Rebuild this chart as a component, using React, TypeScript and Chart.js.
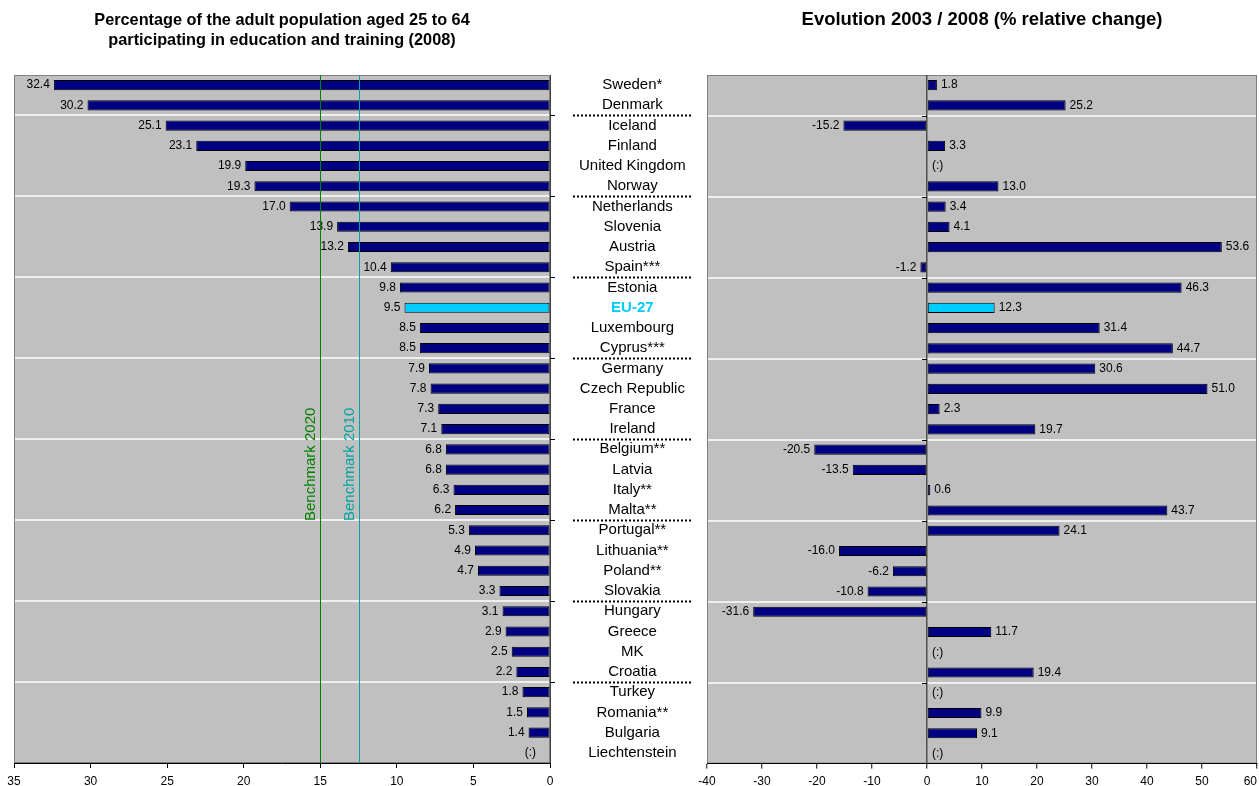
import React, { useEffect, useRef } from 'react';
import { Chart, registerables } from 'chart.js';
Chart.register(...registerables);

const countries = [
  'Sweden*', 'Denmark', 'Iceland', 'Finland', 'United Kingdom', 'Norway',
  'Netherlands', 'Slovenia', 'Austria', 'Spain***', 'Estonia', 'EU-27',
  'Luxembourg', 'Cyprus***', 'Germany', 'Czech Republic', 'France', 'Ireland',
  'Belgium**', 'Latvia', 'Italy**', 'Malta**', 'Portugal**', 'Lithuania**',
  'Poland**', 'Slovakia', 'Hungary', 'Greece', 'MK', 'Croatia', 'Turkey',
  'Romania**', 'Bulgaria', 'Liechtenstein',
];

const participation2008: (number | null)[] = [
  32.4, 30.2, 25.1, 23.1, 19.9, 19.3, 17.0, 13.9, 13.2, 10.4, 9.8, 9.5,
  8.5, 8.5, 7.9, 7.8, 7.3, 7.1, 6.8, 6.8, 6.3, 6.2, 5.3, 4.9,
  4.7, 3.3, 3.1, 2.9, 2.5, 2.2, 1.8, 1.5, 1.4, null,
];

const change2003to2008: (number | null)[] = [
  1.8, 25.2, -15.2, 3.3, null, 13.0, 3.4, 4.1, 53.6, -1.2, 46.3, 12.3,
  31.4, 44.7, 30.6, 51.0, 2.3, 19.7, -20.5, -13.5, 0.6, 43.7, 24.1, -16.0,
  -6.2, -10.8, -31.6, 11.7, null, 19.4, null, 9.9, 9.1, null,
];

const benchmarkNames = ['Benchmark 2020', 'Benchmark 2010'];
const benchmarkValues = [15, 12.5];

const groupBreaks = [2, 6, 10, 14, 18, 22, 26, 30];
const highlight = 'EU-27';

const leftTitle = ['Percentage of the adult population aged 25 to 64', 'participating in education and training (2008)'];
const rightTitle = 'Evolution 2003 / 2008 (% relative change)';

const FONT = '"Liberation Sans", Arial, Helvetica, sans-serif';
const NAVY = '#000080';
const CYAN = '#00CCFF';
const PLOT_BG = '#C0C0C0';
const BENCH_COLORS = ['#008000', '#00A3A3'];

Chart.defaults.font.family = FONT;

const breakY = (chart: any, i: number) => {
  const y = chart.scales.y;
  return Math.round((y.getPixelForValue(i - 1) + y.getPixelForValue(i)) / 2);
};

const plotBgPlugin = {
  id: 'plotBg',
  beforeDraw(chart: any) {
    const { ctx, chartArea: a } = chart;
    ctx.save();
    ctx.fillStyle = PLOT_BG;
    ctx.fillRect(a.left, a.top, a.right - a.left, a.bottom - a.top);
    ctx.strokeStyle = '#FFFFFF';
    ctx.lineWidth = 1.5;
    groupBreaks.forEach((i) => {
      const py = breakY(chart, i);
      ctx.beginPath();
      ctx.moveTo(a.left, py);
      ctx.lineTo(a.right, py);
      ctx.stroke();
    });
    ctx.strokeStyle = '#808080';
    ctx.lineWidth = 1;
    ctx.strokeRect(a.left + 0.5, a.top + 0.5, a.right - a.left - 1, a.bottom - a.top - 1);
    ctx.restore();
  },
};

const makeLabelPlugin = (side: 'left' | 'right') => ({
  id: 'valueLabels_' + side,
  afterDatasetsDraw(chart: any) {
    const { ctx } = chart;
    const xs = chart.scales.x;
    const ys = chart.scales.y;
    const data = chart.data.datasets[0].data as (number | null)[];
    const zero = xs.getPixelForValue(0);
    ctx.save();
    ctx.font = `12px ${FONT}`;
    ctx.fillStyle = '#000';
    ctx.textBaseline = 'middle';
    data.forEach((v, i) => {
      const py = ys.getPixelForValue(i);
      if (v === null || v === undefined) {
        if (side === 'left') {
          ctx.textAlign = 'right';
          ctx.fillText('(:)', zero - 14, py);
        } else {
          ctx.textAlign = 'left';
          ctx.fillText('(:)', zero + 5, py);
        }
        return;
      }
      const px = xs.getPixelForValue(v);
      const txt = v.toFixed(1);
      if (side === 'left') {
        ctx.textAlign = 'right';
        ctx.fillText(txt, px - 4, py);
      } else if (v >= 0) {
        ctx.textAlign = 'left';
        ctx.fillText(txt, px + 4, py);
      } else {
        ctx.textAlign = 'right';
        ctx.fillText(txt, px - 4, py);
      }
    });
    ctx.restore();
  },
});

const leftDecorPlugin = {
  id: 'leftDecor',
  afterDraw(chart: any) {
    const { ctx, chartArea: a } = chart;
    const xs = chart.scales.x;
    ctx.save();
    benchmarkValues.forEach((v, k) => {
      const px = Math.round(xs.getPixelForValue(v)) + 0.5;
      ctx.strokeStyle = BENCH_COLORS[k];
      ctx.lineWidth = 1;
      ctx.beginPath();
      ctx.moveTo(px, a.top);
      ctx.lineTo(px, a.bottom);
      ctx.stroke();
      const bottom = breakY(chart, 22) + 1;
      ctx.save();
      ctx.translate(px - 2, bottom);
      ctx.rotate(-Math.PI / 2);
      ctx.font = `15px ${FONT}`;
      ctx.fillStyle = BENCH_COLORS[k];
      ctx.textAlign = 'left';
      ctx.textBaseline = 'bottom';
      ctx.fillText(benchmarkNames[k], 0, 0);
      ctx.restore();
    });
    const center = a.right + 83;
    groupBreaks.forEach((i) => {
      const py = breakY(chart, i) + 0.5;
      ctx.strokeStyle = '#000';
      ctx.lineWidth = 1;
      ctx.setLineDash([]);
      ctx.beginPath();
      ctx.moveTo(a.right, py);
      ctx.lineTo(a.right + 5, py);
      ctx.stroke();
      ctx.lineWidth = 2;
      ctx.setLineDash([2, 2]);
      ctx.beginPath();
      ctx.moveTo(center - 60, py);
      ctx.lineTo(center + 60, py);
      ctx.stroke();
    });
    ctx.restore();
  },
};

const rightDecorPlugin = {
  id: 'rightDecor',
  afterDraw(chart: any) {
    const { ctx } = chart;
    const zero = Math.round(chart.scales.x.getPixelForValue(0));
    ctx.save();
    ctx.strokeStyle = '#000';
    ctx.lineWidth = 1;
    groupBreaks.forEach((i) => {
      const py = breakY(chart, i) + 0.5;
      ctx.beginPath();
      ctx.moveTo(zero - 5, py);
      ctx.lineTo(zero, py);
      ctx.stroke();
    });
    ctx.restore();
  },
};

const barColors = () => countries.map((c) => (c === highlight ? CYAN : NAVY));

export default function App() {
  const leftRef = useRef<HTMLCanvasElement>(null);
  const rightRef = useRef<HTMLCanvasElement>(null);

  useEffect(() => {
    document.body.style.margin = '0';
    const dataset = (data: (number | null)[]) => ({
      data,
      backgroundColor: barColors(),
      borderColor: '#000',
      borderWidth: 1,
      borderSkipped: false,
      barPercentage: 0.5,
      categoryPercentage: 1,
    });
    const axisTicks = { color: '#000', font: { size: 12, family: FONT }, padding: 6 };

    const left = new Chart(leftRef.current as HTMLCanvasElement, {
      type: 'bar',
      data: { labels: countries, datasets: [dataset(participation2008) as any] },
      options: {
        responsive: false,
        animation: false,
        indexAxis: 'y',
        layout: { padding: { left: 14, top: 75, right: 0, bottom: 3 } },
        plugins: { legend: { display: false }, tooltip: { enabled: false } },
        scales: {
          x: {
            min: 0,
            max: 35,
            reverse: true,
            ticks: { ...axisTicks, stepSize: 5 },
            grid: { drawOnChartArea: false, tickLength: 5, tickColor: '#000' },
            border: { color: '#000', width: 1 },
          },
          y: {
            position: 'right',
            grid: { display: false, drawTicks: false, tickLength: 0 },
            border: { color: '#404040', width: 1 },
            ticks: {
              crossAlign: 'center',
              padding: 29,
              autoSkip: false,
              color: (c: any) => (countries[c.index] === highlight ? CYAN : '#000'),
              font: (c: any) => ({
                family: FONT,
                size: 15,
                weight: countries[c.index] === highlight ? 'bold' : 'normal',
              }),
            },
            afterFit: (s: any) => {
              s.width = 160;
            },
          },
        },
      } as any,
      plugins: [plotBgPlugin, makeLabelPlugin('left'), leftDecorPlugin],
    });

    const right = new Chart(rightRef.current as HTMLCanvasElement, {
      type: 'bar',
      data: { labels: countries, datasets: [dataset(change2003to2008) as any] },
      options: {
        responsive: false,
        animation: false,
        indexAxis: 'y',
        layout: { padding: { left: 17, top: 75, right: 23, bottom: 3 } },
        plugins: { legend: { display: false }, tooltip: { enabled: false } },
        scales: {
          x: {
            min: -40,
            max: 60,
            ticks: {
              ...axisTicks,
              stepSize: 10,
              callback: (v: any) => (v === 60 ? '60\u00a0\u00a0\u00a0\u00a0' : String(v)),
            },
            grid: {
              color: (c: any) => (c.tick && c.tick.value === 0 ? '#505050' : 'rgba(0,0,0,0)'),
              lineWidth: 1.5,
              tickLength: 5,
              tickColor: '#000',
              tickWidth: 1,
            },
            border: { color: '#000', width: 1 },
          },
          y: { display: false },
        },
      } as any,
      plugins: [plotBgPlugin, makeLabelPlugin('right'), rightDecorPlugin],
    });

    return () => {
      left.destroy();
      right.destroy();
    };
  }, []);

  const titleStyle: React.CSSProperties = {
    position: 'absolute',
    top: 9,
    textAlign: 'center',
    fontWeight: 'bold',
    lineHeight: '20px',
    color: '#000',
    whiteSpace: 'nowrap',
  };

  return (
    <div style={{ position: 'relative', width: 1259, height: 786, overflow: 'hidden', background: '#fff', fontFamily: FONT }}>
      <canvas ref={leftRef} width={710} height={801} style={{ position: 'absolute', left: 0, top: 0, width: 710, height: 801 }} />
      <canvas ref={rightRef} width={590} height={798} style={{ position: 'absolute', left: 690, top: 0, width: 590, height: 798 }} />
      <div style={{ ...titleStyle, left: 14, width: 536, fontSize: 16.3 }}>
        {leftTitle[0]}
        <br />
        {leftTitle[1]}
      </div>
      <div style={{ ...titleStyle, left: 707, width: 550, fontSize: 18.5 }}>{rightTitle}</div>
    </div>
  );
}
